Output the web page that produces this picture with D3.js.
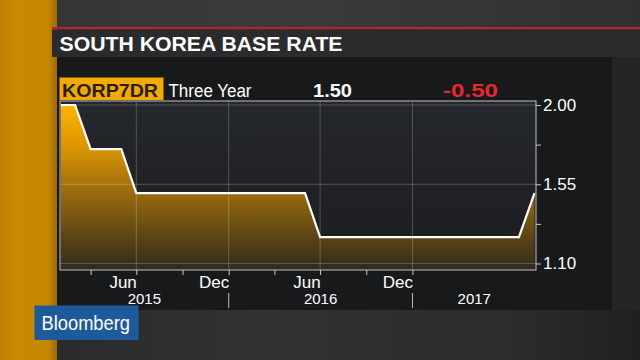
<!DOCTYPE html>
<html>
<head>
<meta charset="utf-8">
<script src="https://cdn.jsdelivr.net/npm/d3@7"></script>
<style>
html,body{margin:0;padding:0;background:#2c2d2f;}
svg{display:block;}
text{font-family:"Liberation Sans",Arial,Helvetica,sans-serif;}
</style>
</head>
<body>
<svg id="chart" width="640" height="360"></svg>
<script>
// ---- data ----
const title = "SOUTH KOREA BASE RATE";
const ticker = "KORP7DR";
const period = "Three Year";
const dates = ["2015-01-31","2015-02-28","2015-03-31","2015-04-30","2015-05-31","2015-06-30",
  "2015-07-31","2015-08-31","2015-09-30","2015-10-31","2015-11-30","2015-12-31",
  "2016-01-31","2016-02-29","2016-03-31","2016-04-30","2016-05-31","2016-06-30",
  "2016-07-31","2016-08-31","2016-09-30","2016-10-31","2016-11-30","2016-12-31",
  "2017-01-31","2017-02-28","2017-03-31","2017-04-30","2017-05-31","2017-06-30",
  "2017-07-31","2017-08-31"];
const rates = [2.00,2.00,1.75,1.75,1.75,1.50,
  1.50,1.50,1.50,1.50,1.50,1.50,
  1.50,1.50,1.50,1.50,1.50,1.25,
  1.25,1.25,1.25,1.25,1.25,1.25,
  1.25,1.25,1.25,1.25,1.25,1.25,
  1.25,1.50];
const yTickValues = [1.10, 1.325, 1.55, 1.775, 2.00];
const yTickLabels = ["1.10", "", "1.55", "", "2.00"];
const xTickDates = ["2015-03-31","2015-06-30","2015-09-30","2015-12-31","2016-03-31","2016-06-30","2016-09-30","2016-12-31"];
const xTickLabels = ["", "Jun", "", "Dec", "", "Jun", "", "Dec"];
const yearLabels = ["2015","2016","2017"];
const yearBreaks = ["2015-12-31","2016-12-31"];
const xDomain = ["2015-01-29","2017-09-03"];

// ---- setup ----
const parse = d3.timeParse("%Y-%m-%d");
const data = dates.map((d,i)=>({date:parse(d), v:rates[i]}));
const svg = d3.select("#chart");
const defs = svg.append("defs");

const P = {l:60, r:536, t:101, b:270};
const x = d3.scaleTime().domain(xDomain.map(parse)).range([P.l, P.r]);
const y = d3.scaleLinear().domain([1.10, 2.00]).range([263.5, 105]);

// ---- background ----
const bgG = defs.append("linearGradient").attr("id","bgTop").attr("x1",0).attr("x2",1).attr("y1",0).attr("y2",0);
bgG.append("stop").attr("offset",0).attr("stop-color","#353638");
bgG.append("stop").attr("offset",0.4).attr("stop-color","#3a3b3d");
bgG.append("stop").attr("offset",1).attr("stop-color","#2f3032");
svg.append("rect").attr("x",0).attr("y",0).attr("width",640).attr("height",360).attr("fill","#2b2c2e");
svg.append("rect").attr("x",52).attr("y",0).attr("width",588).attr("height",28).attr("fill","url(#bgTop)");
const bgB = defs.append("linearGradient").attr("id","bgBot").attr("x1",0).attr("x2",1).attr("y1",0).attr("y2",0);
bgB.append("stop").attr("offset",0).attr("stop-color","#2a2b2d");
bgB.append("stop").attr("offset",0.35).attr("stop-color","#313234");
bgB.append("stop").attr("offset",0.8).attr("stop-color","#2a2b2c");
bgB.append("stop").attr("offset",1).attr("stop-color","#1f2021");
svg.append("rect").attr("x",57).attr("y",310).attr("width",583).attr("height",50).attr("fill","url(#bgBot)");
svg.append("rect").attr("x",612).attr("y",57).attr("width",28).attr("height",253).attr("fill","#242527");

// left orange stripe
const og = defs.append("linearGradient").attr("id","orange").attr("x1",0).attr("x2",1).attr("y1",0).attr("y2",0);
og.append("stop").attr("offset",0).attr("stop-color","#c07f00");
og.append("stop").attr("offset",0.3).attr("stop-color","#c98a00");
og.append("stop").attr("offset",0.85).attr("stop-color","#c58700");
og.append("stop").attr("offset",1).attr("stop-color","#9a6a05");
svg.append("rect").attr("x",0).attr("y",0).attr("width",57).attr("height",360).attr("fill","url(#orange)");

// red line & title bar
svg.append("rect").attr("x",52).attr("y",27).attr("width",588).attr("height",2.5).attr("fill","#b3262b");
svg.append("rect").attr("x",52).attr("y",29.5).attr("width",588).attr("height",27.5).attr("fill","#2a2b2d");
svg.append("text").attr("x",59.5).attr("y",50.5).attr("fill","#ffffff")
  .attr("font-size",21).attr("font-weight","bold")
  .attr("textLength",283).attr("lengthAdjust","spacingAndGlyphs").text(title);

// main panel
svg.append("rect").attr("x",57).attr("y",57).attr("width",555).attr("height",253).attr("fill","#18191b");

// ---- legend row ----
svg.append("rect").attr("x",59.5).attr("y",77.5).attr("width",104).attr("height",22.5).attr("fill","#f2a900");
svg.append("text").attr("x",62).attr("y",96.5).attr("fill","#2a1d00").attr("font-size",18).attr("font-weight","bold")
  .attr("textLength",96).attr("lengthAdjust","spacingAndGlyphs").text(ticker);
svg.append("text").attr("x",168.5).attr("y",96.5).attr("fill","#ffffff").attr("font-size",18)
  .attr("textLength",83).attr("lengthAdjust","spacingAndGlyphs").text(period);
const last = rates[rates.length-1], first = rates[0];
const fmt = v => d3.format(".2f")(v).replace("\u2212","-");
svg.append("text").attr("x",313).attr("y",96.5).attr("fill","#ffffff").attr("font-size",19).attr("font-weight","bold")
  .attr("textLength",39).attr("lengthAdjust","spacingAndGlyphs").text(fmt(last));
svg.append("text").attr("x",443).attr("y",96.5).attr("fill","#ec272c").attr("font-size",19).attr("font-weight","bold")
  .attr("textLength",55).attr("lengthAdjust","spacingAndGlyphs").text(fmt(last-first));

// ---- plot ----
const pg = defs.append("linearGradient").attr("id","plotbg").attr("x1",0).attr("x2",0).attr("y1",0).attr("y2",1);
pg.append("stop").attr("offset",0).attr("stop-color","#24272c");
pg.append("stop").attr("offset",1).attr("stop-color","#1c1d20");
svg.append("rect").attr("x",P.l).attr("y",P.t).attr("width",P.r-P.l).attr("height",P.b-P.t).attr("fill","url(#plotbg)");

const ag = defs.append("linearGradient").attr("id","areaFill").attr("gradientUnits","userSpaceOnUse")
  .attr("x1",0).attr("x2",0).attr("y1",y(2.00)).attr("y2",P.b);
ag.append("stop").attr("offset",0).attr("stop-color","#ffb300");
ag.append("stop").attr("offset",0.25).attr("stop-color","#dc9600");
ag.append("stop").attr("offset",0.5).attr("stop-color","#a0700c");
ag.append("stop").attr("offset",0.78).attr("stop-color","#604714");
ag.append("stop").attr("offset",1).attr("stop-color","#2f2a1f");

const area = d3.area().x(d=>x(d.date)).y0(P.b).y1(d=>y(d.v));
svg.append("path").datum(data).attr("d",area).attr("fill","url(#areaFill)");

// grid
const gridG = svg.append("g");
gridG.selectAll("line.v").data(xTickDates.filter((d,i)=>xTickLabels[i]!=="")).join("line")
  .attr("x1",d=>x(parse(d))).attr("x2",d=>x(parse(d))).attr("y1",P.t).attr("y2",P.b)
  .attr("stroke","rgba(255,255,255,0.22)").attr("stroke-width",1);
gridG.selectAll("line.h").data(yTickValues.filter((d,i)=>yTickLabels[i]!=="")).join("line")
  .attr("x1",P.l).attr("x2",P.r).attr("y1",d=>y(d)).attr("y2",d=>y(d))
  .attr("stroke","rgba(255,255,255,0.22)").attr("stroke-width",1);

const line = d3.line().x(d=>x(d.date)).y(d=>y(d.v));
svg.append("path").datum(data).attr("d",line).attr("fill","none").attr("stroke","#ffffff").attr("stroke-width",2.2).attr("stroke-linejoin","miter");

// frame
svg.append("rect").attr("x",P.l).attr("y",P.t).attr("width",P.r-P.l).attr("height",P.b-P.t)
  .attr("fill","none").attr("stroke","#c4c4c4").attr("stroke-width",1);

// right axis
const yAxis = d3.axisRight(y).tickValues(yTickValues).tickSize(5).tickPadding(2)
  .tickFormat((d,i)=>yTickLabels[i]);
const ya = svg.append("g").attr("transform",`translate(${P.r},0)`).call(yAxis);
ya.select(".domain").remove();
ya.selectAll("line").attr("stroke","#c8c8c8");
ya.selectAll("text").attr("fill","#ffffff").attr("font-size",17).attr("font-family","Liberation Sans, Arial, sans-serif");

// bottom axis
const xAxis = d3.axisBottom(x).tickValues(xTickDates.map(parse)).tickSize(5).tickPadding(3)
  .tickFormat((d,i)=>xTickLabels[i]);
const xa = svg.append("g").attr("transform",`translate(0,${P.b})`).call(xAxis);
xa.select(".domain").remove();
xa.selectAll("line").attr("stroke","#c8c8c8");
xa.selectAll("text").attr("fill","#ffffff").attr("font-size",17).attr("font-family","Liberation Sans, Arial, sans-serif")
  .attr("text-anchor","end").attr("dy",null).attr("y",17.5).attr("x",0);

// year separators and labels
const breaks = yearBreaks.map(parse);
svg.selectAll("line.yb").data(breaks).join("line")
  .attr("x1",d=>x(d)).attr("x2",d=>x(d)).attr("y1",293).attr("y2",308)
  .attr("stroke","#bdbdbd").attr("stroke-width",1);
const edges = [x.domain()[0], ...breaks, x.domain()[1]];
svg.selectAll("text.yr").data(yearLabels).join("text")
  .attr("x",(d,i)=>(x(edges[i])+x(edges[i+1]))/2).attr("y",303.5)
  .attr("text-anchor","middle").attr("fill","#ffffff").attr("font-size",15).text(d=>d);

// Bloomberg logo
svg.append("rect").attr("x",34.5).attr("y",305.5).attr("width",104).attr("height",34.5).attr("fill","#1d5a9c");
svg.append("text").attr("x",41.5).attr("y",330).attr("fill","#ffffff").attr("font-size",20.5)
  .attr("textLength",88.5).attr("lengthAdjust","spacingAndGlyphs").text("Bloomberg");
</script>
</body>
</html>
